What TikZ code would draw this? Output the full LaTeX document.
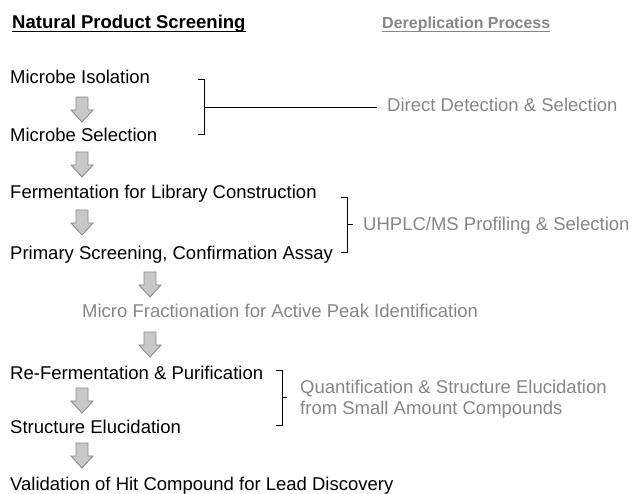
\documentclass[tikz,border=0pt]{standalone}
\usepackage{fontspec}
\setmainfont{Liberation Sans}
\usepackage{tikz}

\definecolor{softgray}{RGB}{134,134,134}
\definecolor{arrowfill}{RGB}{200,200,200}
\definecolor{arrowline}{RGB}{140,140,140}

\tikzset{
  stepbox/.style={anchor=base west, inner sep=0pt, font=\fontsize{18.5}{22}\selectfont},
  derep/.style={stepbox, text=softgray},
  heading/.style={stepbox, font=\fontsize{18.5}{22}\selectfont\bfseries},
  pics/downarrow/.style={code={
    \filldraw[fill=arrowfill, draw=arrowline, line width=0.9pt, line join=miter]
      (-6,0) -- (6,0) -- (6,13) -- (11,13) -- (0,25) -- (-11,13) -- (-6,13) -- cycle;}}
}

\begin{document}
\begin{tikzpicture}
[x=1pt,y=-1pt]
\useasboundingbox (0,0) rectangle (633,494);

\node[heading] (h1) at (12,28.5) {Natural Product Screening};
\node[heading, text=softgray, font=\fontsize{16}{20}\selectfont\bfseries] (h2) at (382,28.5) {Dereplication Process};
\draw[line width=1pt] ([yshift=-3.5pt]h1.base west) -- ([yshift=-3.5pt]h1.base east);
\draw[line width=1pt, softgray] ([yshift=-3.5pt]h2.base west) -- ([yshift=-3.5pt]h2.base east);

\node[stepbox] (s1) at (10,83.6) {Microbe Isolation};
\node[stepbox] (s2) at (10,141.6) {Microbe Selection};
\node[stepbox] (s3) at (10,198.6) {Fermentation for Library Construction};
\node[stepbox] (s4) at (10,259.6) {Primary Screening, Confirmation Assay};
\node[derep] (s5) at (82,317.6) {Micro Fractionation for Active Peak Identification};
\node[stepbox] (s6) at (10,379.6) {Re-Fermentation \& Purification};
\node[stepbox] (s7) at (10,433.6) {Structure Elucidation};
\node[stepbox] (s8) at (10,491) {Validation of Hit Compound for Lead Discovery};

\node[derep] (d1) at (387,111.6) {Direct Detection \& Selection};
\node[derep] (d2) at (363,230.6) {UHPLC/MS Profiling \& Selection};
\node[derep] (d3) at (300,393.6) {Quantification \& Structure Elucidation};
\node[derep] (d4) at (300,414.6) {from Small Amount Compounds};

% block arrows
\foreach \x/\y in {82/97,82/152,82/210,150/272,150/332,82/388,82/443}
\pic at (\x,\y) {downarrow};

% brackets
\coordinate (b1) at (204,107);
\coordinate (b2) at (347,224.5);
\coordinate (b3) at (282,397.5);
\draw[line width=0.9pt] (198,79) -- (204,79) -- (204,134) -- (198,134);
\draw[line width=0.9pt] (341,197) -- (347,197) -- (347,252) -- (341,252);
\draw[line width=0.9pt] (276,370) -- (282,370) -- (282,425) -- (276,425);
\draw[line width=0.9pt] (b1) -- ([xshift=-10pt]d1.west |- b1);
\draw[line width=0.9pt] (b2) -- +(6,0);
\draw[line width=0.9pt] (b3) -- +(5,0);
\end{tikzpicture}
\end{document}
